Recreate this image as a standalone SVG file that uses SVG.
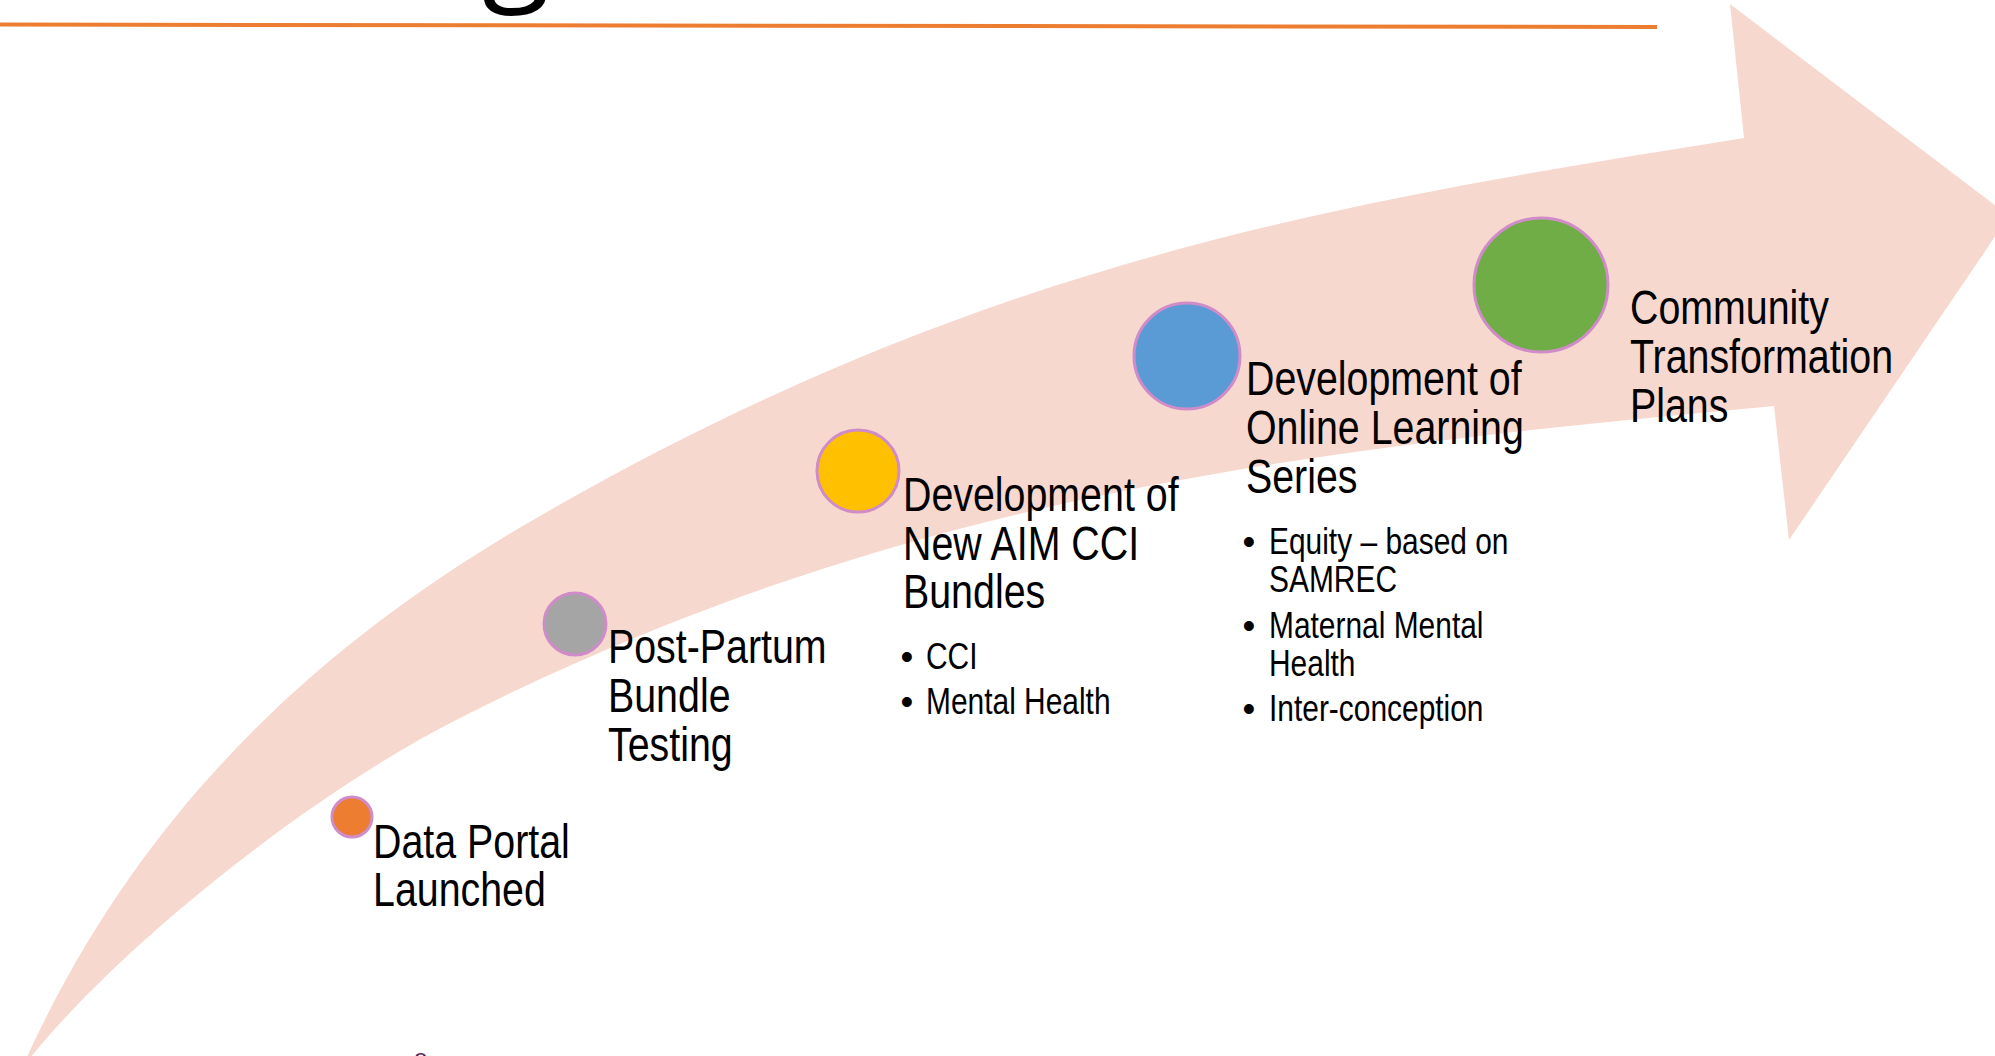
<svg xmlns="http://www.w3.org/2000/svg" width="1995" height="1056" viewBox="0 0 1995 1056">
  <style>
    .band { fill: #F7D8CE; }
    .dot { stroke: #CF8CC8; stroke-width: 3; }
    .title { font-family: "Liberation Sans", Arial, sans-serif; font-size: 48px; fill: #000; }
    .bullet { font-family: "Liberation Sans", Arial, sans-serif; font-size: 36.5px; fill: #000; }
    .mark { font-family: "Liberation Sans", Arial, sans-serif; font-size: 36.5px; fill: #000; text-anchor: middle; }
  </style>
  <rect width="1995" height="1056" fill="#FFFFFF"/>

  <!-- heading remnant and rule -->
  <text x="482" y="-14" font-family="Open Sans, sans-serif" font-size="125" fill="#000">g</text>
  <line x1="0" y1="24.5" x2="1657" y2="27" stroke="#ED7D31" stroke-width="4"/>

  <!-- rising timeline arrow -->
  <g id="connectors">
    <path class="band" d="M22,1068 C112,952 306,796.5 456,720 C906,490.5 1324,447.9 1774,406 L1789,540 L2009,216 L1730,4 L1744,138 C1344,202 983,259 533,520 C333,636 142,799 22,1068 Z"/>
  </g>

  <!-- milestones (labels use a condensed horizontal scale) -->
  <g id="node-data-portal">
    <circle class="dot" cx="352" cy="817" r="20" fill="#ED7D31"/>
    <g transform="translate(373 0) scale(0.82 1)">
      <text class="title"><tspan x="0" y="858">Data Portal</tspan><tspan x="0" y="906">Launched</tspan></text>
    </g>
  </g>

  <g id="node-post-partum">
    <circle class="dot" cx="575" cy="624" r="31" fill="#A5A5A5"/>
    <g transform="translate(608 0) scale(0.82 1)">
      <text class="title"><tspan x="0" y="663">Post-Partum</tspan><tspan x="0" y="712">Bundle</tspan><tspan x="0" y="761">Testing</tspan></text>
    </g>
  </g>

  <g id="node-aim-cci">
    <circle class="dot" cx="858" cy="471" r="41" fill="#FFC000"/>
    <g transform="translate(903 0) scale(0.82 1)">
      <text class="title"><tspan x="0" y="511">Development of</tspan><tspan x="0" y="560">New AIM CCI</tspan><tspan x="0" y="608">Bundles</tspan></text>
    </g>
    <text class="mark" x="907" y="669">•</text>
    <text class="mark" x="907" y="714">•</text>
    <g transform="translate(926 0) scale(0.82 1)">
      <text class="bullet"><tspan x="0" y="669">CCI</tspan><tspan x="0" y="714">Mental Health</tspan></text>
    </g>
  </g>

  <g id="node-online-learning">
    <circle class="dot" cx="1187" cy="356" r="53" fill="#5B9BD5"/>
    <g transform="translate(1246 0) scale(0.82 1)">
      <text class="title"><tspan x="0" y="395">Development of</tspan><tspan x="0" y="444">Online Learning</tspan><tspan x="0" y="493">Series</tspan></text>
    </g>
    <text class="mark" x="1249" y="554">•</text>
    <text class="mark" x="1249" y="638">•</text>
    <text class="mark" x="1249" y="721">•</text>
    <g transform="translate(1269 0) scale(0.82 1)">
      <text class="bullet"><tspan x="0" y="554">Equity – based on</tspan><tspan x="0" y="592">SAMREC</tspan><tspan x="0" y="638">Maternal Mental</tspan><tspan x="0" y="676">Health</tspan><tspan x="0" y="721">Inter-conception</tspan></text>
    </g>
  </g>

  <g id="node-community">
    <circle class="dot" cx="1541" cy="285" r="67" fill="#70AD47"/>
    <g transform="translate(1630 0) scale(0.82 1)">
      <text class="title"><tspan x="0" y="324">Community</tspan><tspan x="0" y="373">Transformation</tspan><tspan x="0" y="422">Plans</tspan></text>
    </g>
  </g>

  <!-- edge of a lower element cut by the frame -->
  <text x="414" y="1066" font-family="Liberation Sans, sans-serif" font-size="24" fill="#5E2256">o</text>
</svg>
